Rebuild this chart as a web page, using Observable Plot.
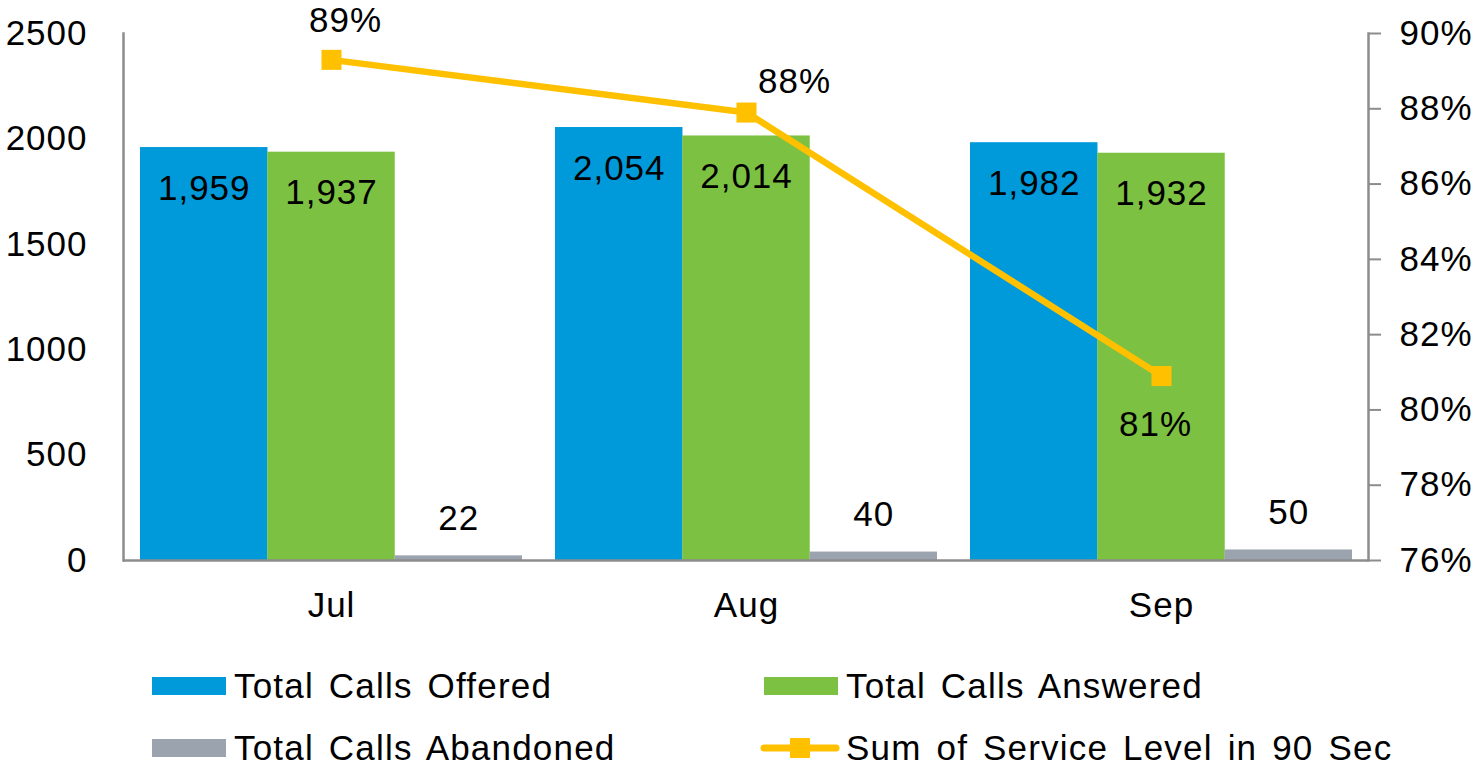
<!DOCTYPE html>
<html>
<head>
<meta charset="utf-8">
<script src="https://cdn.jsdelivr.net/npm/d3@7"></script>
<script src="https://cdn.jsdelivr.net/npm/@observablehq/plot@0.6"></script>
<style>
  html, body { margin: 0; padding: 0; background: #fff; }
  body { width: 1480px; height: 772px; position: relative; overflow: hidden; font-family: "Liberation Sans", Arial, sans-serif; }
  #chart { position: absolute; left: 0; top: 0; }
  #chart svg text { letter-spacing: 1px; }
  .leg { position: absolute; display: flex; align-items: center; font-size: 35px; letter-spacing: 1.2px; word-spacing: 4px; color: #000; white-space: nowrap; }
  .sw { display: inline-block; width: 74px; height: 18px; margin-right: 8px; }
</style>
</head>
<body>
<div id="chart"></div>
<div class="leg" style="left:152px; top:666px;"><span class="sw" style="background:#009ADA"></span>Total Calls Offered</div>
<div class="leg" style="left:764px; top:666px;"><span class="sw" style="background:#7DC142"></span>Total Calls Answered</div>
<div class="leg" style="left:152px; top:728px;"><span class="sw" style="background:#9BA4AE"></span>Total Calls Abandoned</div>
<div class="leg" style="left:760px; top:728px;"><svg width="80" height="24" style="margin-right:6px"><line x1="4" y1="12" x2="76" y2="12" stroke="#FFC000" stroke-width="7" stroke-linecap="round"/><rect x="30" y="2" width="20" height="20" fill="#FFC000"/></svg>Sum of Service Level in 90 Sec</div>
<script>
const months = ["Jul", "Aug", "Sep"];
const offered = [1959, 2054, 1982];
const answered = [1937, 2014, 1932];
const abandoned = [22, 40, 50];
const serviceLevel = [89.3, 87.9, 80.9];
const serviceLabels = ["89%", "88%", "81%"];
const leftTicks = [0, 500, 1000, 1500, 2000, 2500];
const rightTicks = [76, 78, 80, 82, 84, 86, 88, 90];
const rightMin = 76, rightMax = 90, leftMax = 2500;

const toLeft = v => (v - rightMin) / (rightMax - rightMin) * leftMax;
const fmt = d3.format(",");

const W = 1480, H = 640;
const mL = 123, mR = 112, mT = 33, mB = 80;
const pad = 0.08;
const step = (W - mL - mR) / months.length;
const bw = step * (1 - pad) / 3;

const rows = months.map((m, i) => ({m, offered: offered[i], answered: answered[i], abandoned: abandoned[i], sl: toLeft(serviceLevel[i]), lab: serviceLabels[i]}));

const lineLabelOffsets = [[14, -39], [48, -31], [-6, 49]];
const font = "Liberation Sans, Arial, sans-serif";
const axisColor = "#8c8c8c";
const fs = 35;

const marks = [
  Plot.barY(rows, {x: "m", y: "offered", fill: "#009ADA", insetLeft: 0, insetRight: 2 * bw}),
  Plot.barY(rows, {x: "m", y: "answered", fill: "#7DC142", insetLeft: bw, insetRight: bw}),
  Plot.barY(rows, {x: "m", y: "abandoned", fill: "#9BA4AE", insetLeft: 2 * bw, insetRight: 0}),
  Plot.text(rows, {x: "m", y: "offered", text: d => fmt(d.offered), dx: -bw, dy: 41, fontSize: fs, fill: "#000"}),
  Plot.text(rows, {x: "m", y: "answered", text: d => fmt(d.answered), dx: 0, dy: 41, fontSize: fs, fill: "#000"}),
  Plot.text(rows, {x: "m", y: "abandoned", text: d => fmt(d.abandoned), dx: bw, dy: -37, fontSize: fs, fill: "#000"}),
  Plot.ruleY([0], {stroke: axisColor, strokeWidth: 2.5}),
  Plot.frame({anchor: "left", stroke: axisColor, strokeWidth: 2.5}),
  Plot.frame({anchor: "right", stroke: axisColor, strokeWidth: 2.5}),
  Plot.axisY(leftTicks, {anchor: "left", tickSize: 0, tickPadding: 36, fontSize: fs, label: null, fill: "#000", tickFormat: d => String(d)}),
  Plot.axisY(rightTicks.map(toLeft), {anchor: "right", tickSize: 12, tickPadding: 19, stroke: axisColor, strokeWidth: 2, fontSize: fs, label: null, tickFormat: (v, i) => rightTicks[i] + "%", fill: "#000"}),
  Plot.axisX({tickSize: 0, tickPadding: 32, fontSize: fs, label: null, fill: "#000"}),
  Plot.line(rows, {x: "m", y: "sl", stroke: "#FFC000", strokeWidth: 6.5}),
  Plot.dot(rows, {x: "m", y: "sl", symbol: "square", r: 11.3, fill: "#FFC000", stroke: null}),
  ...rows.map((r, i) => Plot.text([r], {x: "m", y: "sl", text: "lab", dx: lineLabelOffsets[i][0], dy: lineLabelOffsets[i][1], fontSize: fs, fill: "#000"}))
];

const chart = Plot.plot({
  width: W, height: H,
  marginLeft: mL, marginRight: mR, marginTop: mT, marginBottom: mB,
  style: {fontFamily: font, fontSize: fs + "px", color: "#000", background: "#fff", overflow: "visible"},
  x: {domain: months, paddingInner: pad, paddingOuter: pad / 2, axis: null},
  y: {domain: [0, leftMax], axis: null},
  marks
});
document.getElementById("chart").appendChild(chart);
</script>
</body>
</html>
